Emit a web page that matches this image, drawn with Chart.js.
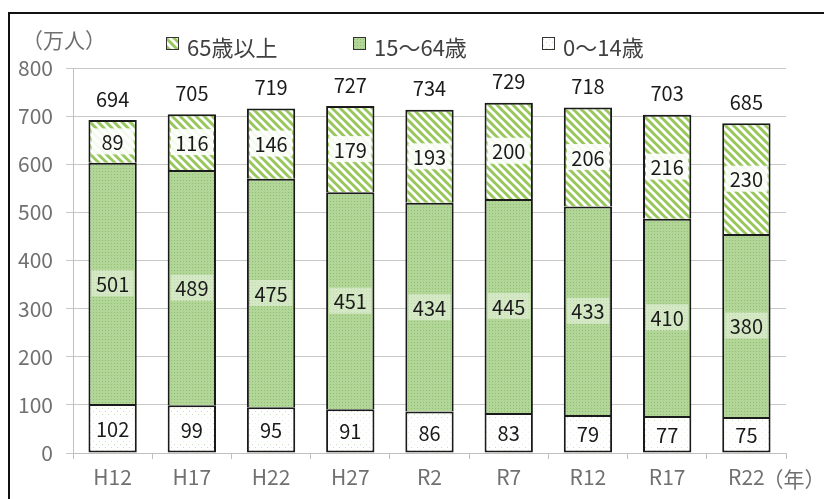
<!DOCTYPE html>
<html>
<head>
<meta charset="utf-8">
<script src="https://cdn.jsdelivr.net/npm/chart.js@4/dist/chart.umd.min.js"></script>
<style>
  html, body { margin: 0; padding: 0; background: #fff; }
  #wrap { width: 824px; height: 499px; }
</style>
</head>
<body>
<div id="wrap"><canvas id="myChart" width="824" height="499"></canvas></div>
<script>
// data
const years = ['H12', 'H17', 'H22', 'H27', 'R2', 'R7', 'R12', 'R17', 'R22'];
const age0to14 = [102, 99, 95, 91, 86, 83, 79, 77, 75];
const age15to64 = [501, 489, 475, 451, 434, 445, 433, 410, 380];
const age65plus = [89, 116, 146, 179, 193, 200, 206, 216, 230];
const totals = [694, 705, 719, 727, 734, 729, 718, 703, 685];
const yTicks = [0, 100, 200, 300, 400, 500, 600, 700, 800];

const FONT = "'Noto Sans CJK JP', 'Noto Sans', sans-serif";

function makePattern(size, draw) {
    let c = document.createElement('canvas');
    c.width = size;
    c.height = size;
    let g = c.getContext('2d');
    draw(g, size);
    return g.createPattern(c, 'repeat');
}

// 65+ : diagonal green stripes
let stripes = makePattern(8, (g, s) => {
    g.fillStyle = '#ffffff';
    g.fillRect(0, 0, s, s);
    g.strokeStyle = '#98c75c';
    g.lineWidth = 3;
    for (let x = -s; x <= s; x += s) {
        g.beginPath();
        g.moveTo(x - 1, -1);
        g.lineTo(x + s + 1, s + 1);
        g.stroke();
    }
});

// 15-64 : green with fine dots
let greenDots = makePattern(3, (g, s) => {
    g.fillStyle = '#b2d598';
    g.fillRect(0, 0, s, s);
    g.fillStyle = '#8fbe6e';
    g.fillRect(0, 0, 1, 1);
});

// 0-14 : white with sparse dots
let whiteDots = makePattern(6, (g, s) => {
    g.fillStyle = '#ffffff';
    g.fillRect(0, 0, s, s);
    g.fillStyle = '#c9e0b6';
    g.fillRect(0, 0, 1, 1);
    g.fillRect(3, 3, 1, 1);
});

const frame = {
    id: 'frame',
    beforeDraw(chart) {
        let ctx = chart.ctx;
        ctx.save();
        ctx.fillStyle = '#ffffff';
        ctx.fillRect(0, 0, chart.width, chart.height);
        ctx.strokeStyle = '#111';
        ctx.lineWidth = 2;
        ctx.beginPath();
        ctx.moveTo(9, chart.height);
        ctx.lineTo(9, 13);
        ctx.lineTo(chart.width, 13);
        ctx.stroke();
        ctx.restore();
    },
    afterDraw(chart) {
        let ctx = chart.ctx;
        let x = chart.scales.x;
        ctx.save();
        ctx.fillStyle = '#707070';
        ctx.font = '21px ' + FONT;
        ctx.textBaseline = 'middle';
        ctx.textAlign = 'left';
        ctx.fillText('（万人）', 22, 40);
        ctx.fillText('（年）', x.getPixelForValue(years.length - 1) + 16, 479);

        // legend, top row (reverse of stacking order)
        let starts = [166, 353, 542];
        let sets = chart.data.datasets.slice().reverse();
        ctx.font = '22px ' + FONT;
        sets.forEach((d, i) => {
            let bx = starts[i];
            ctx.fillStyle = d.backgroundColor;
            ctx.fillRect(bx, 37, 12, 12);
            ctx.strokeStyle = '#333';
            ctx.lineWidth = 1;
            ctx.strokeRect(bx + 0.5, 37.5, 12, 12);
            ctx.fillStyle = '#404040';
            ctx.fillText(d.label, bx + 21, 48);
        });
        ctx.restore();
    }
};

const labels = {
    id: 'labels',
    afterDatasetsDraw(chart) {
        let ctx = chart.ctx;
        ctx.save();
        ctx.font = '20px ' + FONT;
        ctx.textAlign = 'center';
        ctx.textBaseline = 'middle';
        let bgs = ['rgba(255,255,255,0.6)', 'rgba(255,255,255,0.45)', 'rgba(255,255,255,0.9)'];
        chart.data.datasets.forEach((ds, i) => {
            let meta = chart.getDatasetMeta(i);
            meta.data.forEach((bar, j) => {
                let cy = (bar.y + bar.base) / 2;
                let w = bar.width - 6;
                ctx.fillStyle = bgs[i];
                ctx.fillRect(bar.x - w / 2, cy - 13, w, 26);
                ctx.fillStyle = '#1a1a1a';
                ctx.fillText(ds.data[j], bar.x, cy + 1);
            });
        });
        let top = chart.getDatasetMeta(2);
        top.data.forEach((bar, j) => {
            ctx.fillStyle = '#1a1a1a';
            ctx.fillText(totals[j], bar.x, bar.y - 21);
        });
        ctx.restore();
    }
};

let ctx = document.getElementById('myChart');

let myChart = new Chart(ctx, {
    type: 'bar',
    data: {
        labels: years,
        datasets: [
            { label: '0〜14歳', data: age0to14, backgroundColor: whiteDots, borderSkipped: false },
            { label: '15〜64歳', data: age15to64, backgroundColor: greenDots, borderSkipped: 'start' },
            { label: '65歳以上', data: age65plus, backgroundColor: stripes, borderSkipped: 'start' }
        ].map(d => Object.assign(d, {
            borderColor: '#1a1a1a',
            borderWidth: 2,
            categoryPercentage: 1,
            barPercentage: 0.61
        }))
    },
    options: {
        responsive: false,
        animation: false,
        layout: { padding: { left: 10, right: 38, top: 68, bottom: 0 } },
        plugins: {
            tooltip: { enabled: false },
            legend: { display: false }
        },
        scales: {
            x: {
                stacked: true,
                grid: { display: true, drawOnChartArea: false, tickLength: 6, color: '#bfbfbf' },
                border: { color: '#bfbfbf' },
                ticks: { color: '#707070', padding: 5, font: { family: FONT, size: 21 } },
                afterFit(scale) { scale.height = 46; }
            },
            y: {
                stacked: true,
                min: 0,
                max: 800,
                afterBuildTicks(scale) { scale.ticks = yTicks.map(v => ({ value: v })); },
                grid: { color: '#c8c8c8', tickLength: 7 },
                border: { color: '#bfbfbf' },
                ticks: { color: '#707070', padding: 13, font: { family: FONT, size: 21 } },
                afterFit(scale) { scale.width = 63; }
            }
        }
    },
    plugins: [frame, labels]
});
</script>
</body>
</html>
